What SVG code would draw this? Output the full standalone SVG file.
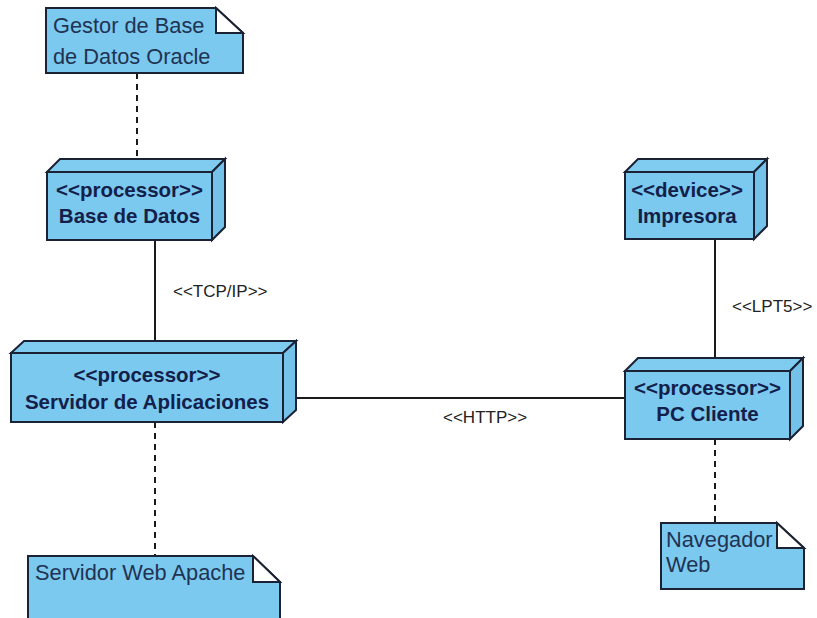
<svg xmlns="http://www.w3.org/2000/svg" width="817" height="618" viewBox="0 0 817 618">
<style>
.face{fill:#7CC9EF;stroke:#1b2233;stroke-width:2;stroke-linejoin:miter}
.top{fill:#80CBF0;stroke:#1b2233;stroke-width:2}
.side{fill:#74C2EA;stroke:#1b2233;stroke-width:2}
.note{fill:#7CC9EF;stroke:#1b2233;stroke-width:2}
.fold{fill:#ffffff;stroke:#1b2233;stroke-width:2}
.nt{font-family:"Liberation Sans",Arial,sans-serif;font-weight:bold;font-size:20.5px;fill:#13204a;text-anchor:middle}
.notet{font-family:"Liberation Sans",Arial,sans-serif;font-size:21.8px;fill:#1f3352}
.lbl{font-family:"Liberation Sans",Arial,sans-serif;font-size:17px;fill:#222222}
.solid{stroke:#1a1a1a;stroke-width:2;fill:none}
.dash{stroke:#1a1a1a;stroke-width:2;fill:none;stroke-dasharray:6 5}
</style>
<rect width="817" height="618" fill="#ffffff"/>
<g id="connectors">
<line class="dash" x1="137" y1="73" x2="137" y2="159"/>
<line class="solid" x1="155" y1="240" x2="155" y2="342"/>
<line class="solid" x1="296" y1="398" x2="625" y2="398"/>
<line class="solid" x1="715" y1="239" x2="715" y2="358"/>
<line class="dash" x1="155" y1="422" x2="155" y2="556"/>
<line class="dash" x1="715" y1="439" x2="715" y2="523"/>
<text class="lbl" x="173" y="297">&lt;&lt;TCP/IP&gt;&gt;</text>
<text class="lbl" x="443" y="423">&lt;&lt;HTTP&gt;&gt;</text>
<text class="lbl" x="732" y="312">&lt;&lt;LPT5&gt;&gt;</text>
</g>
<g id="note-gestor">
<polygon class="note" points="46,8 216,8 243,33 243,73 46,73"/>
<polygon class="fold" points="216,8 216,33 243,33"/>
<text class="notet" x="53" y="33">Gestor de Base</text>
<text class="notet" x="53" y="64">de Datos Oracle</text>
</g>
<g id="node-basedatos">
<polygon class="top" points="47,172 60,159 225,159 212,172"/>
<polygon class="side" points="212,172 225,159 225,227 212,240"/>
<rect class="face" x="47" y="172" width="165" height="68"/>
<text class="nt" x="129.5" y="197">&lt;&lt;processor&gt;&gt;</text>
<text class="nt" x="129.5" y="223">Base de Datos</text>
</g>
<g id="node-servidor">
<polygon class="top" points="11,353 24,341 296,341 283,353"/>
<polygon class="side" points="283,353 296,341 296,410 283,422"/>
<rect class="face" x="11" y="353" width="272" height="69"/>
<text class="nt" x="147" y="382">&lt;&lt;processor&gt;&gt;</text>
<text class="nt" x="147" y="409">Servidor de Aplicaciones</text>
</g>
<g id="node-impresora">
<polygon class="top" points="625,172 638,159 767,159 754,172"/>
<polygon class="side" points="754,172 767,159 767,226 754,239"/>
<rect class="face" x="625" y="172" width="129" height="67"/>
<text class="nt" x="687" y="197">&lt;&lt;device&gt;&gt;</text>
<text class="nt" x="687" y="223">Impresora</text>
</g>
<g id="node-pccliente">
<polygon class="top" points="625,371 638,358 803,358 790,371"/>
<polygon class="side" points="790,371 803,358 803,426 790,439"/>
<rect class="face" x="625" y="371" width="165" height="68"/>
<text class="nt" x="707.5" y="395">&lt;&lt;processor&gt;&gt;</text>
<text class="nt" x="707.5" y="421">PC Cliente</text>
</g>
<g id="note-apache">
<polygon class="note" points="28,556 253,556 280,582 280,630 28,630"/>
<polygon class="fold" points="253,556 253,582 280,582"/>
<text class="notet" x="35" y="580">Servidor Web Apache</text>
</g>
<g id="note-navegador">
<polygon class="note" points="661,523 777,523 804,548 804,589 661,589"/>
<polygon class="fold" points="777,523 777,548 804,548"/>
<text class="notet" x="666" y="547">Navegador</text>
<text class="notet" x="666" y="572">Web</text>
</g>
</svg>
